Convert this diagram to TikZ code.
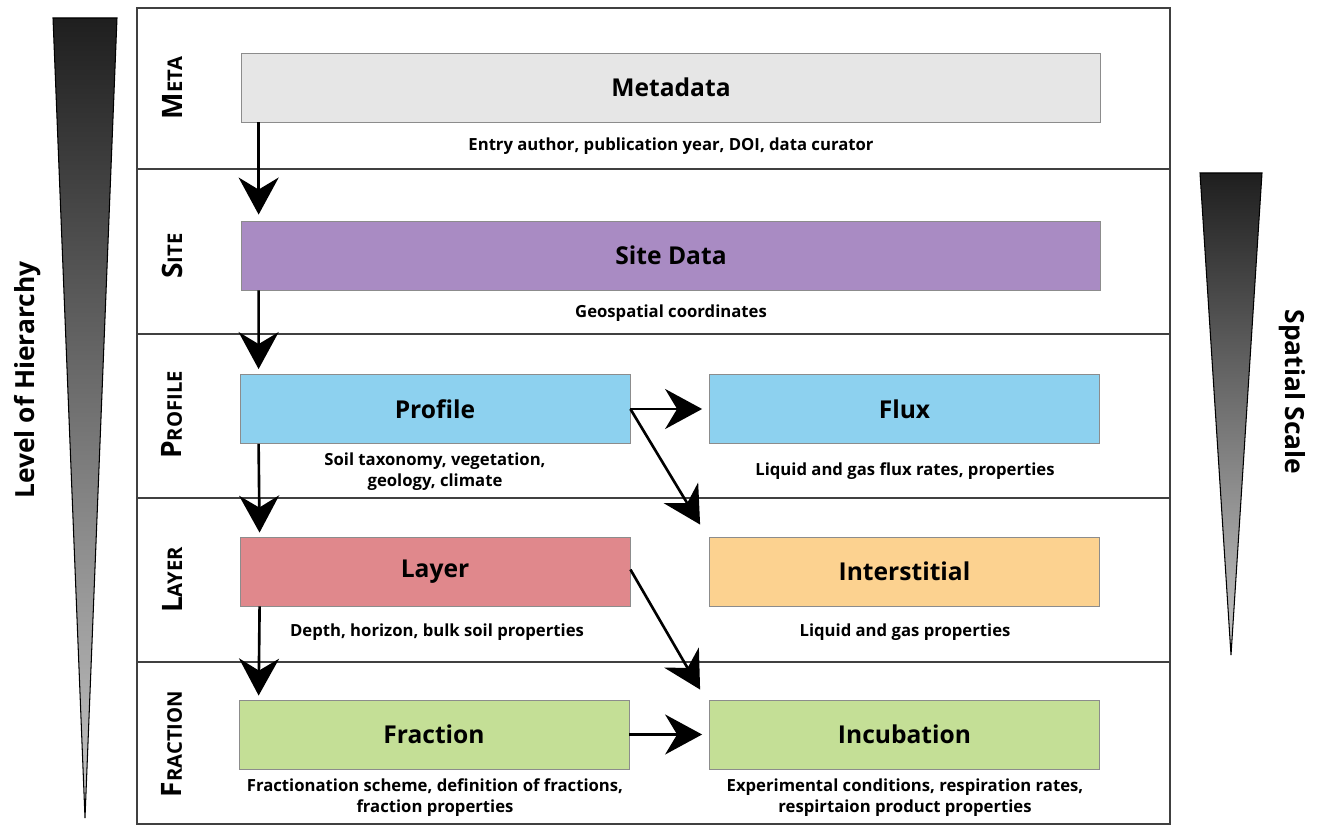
\documentclass[tikz,border=0pt]{standalone}
\usepackage{fontspec}
\setmainfont{Open Sans}
\usetikzlibrary{arrows.meta,positioning}

\definecolor{metagray}{HTML}{E6E6E6}
\definecolor{sitepurple}{HTML}{A98BC3}
\definecolor{profileblue}{HTML}{8DD1EF}
\definecolor{layerred}{HTML}{E0888C}
\definecolor{interorange}{HTML}{FCD290}
\definecolor{fracgreen}{HTML}{C4DF96}

% fake small caps for the row names
\newcommand{\levelname}[2]{{\fontsize{16}{16}\selectfont #1}{\fontsize{11.5}{12}\selectfont #2}}

\tikzset{
  datbox/.style={draw=black!45, line width=0.5pt, minimum height=1.38cm,
    inner sep=0pt, font=\bfseries\fontsize{14}{16}\selectfont},
  widebox/.style={datbox, minimum width=17.2cm},
  halfbox/.style={datbox, minimum width=7.8cm},
  note/.style={font=\bfseries\fontsize{9.5}{12}\selectfont, align=center},
  link/.style={line width=1.5pt, -{Stealth[length=0.74cm,width=0.8cm,inset=0.24cm]}},
  level/.style={rotate=90, font=\bfseries},
  sidetitle/.style={font=\bfseries\fontsize{15}{17}\selectfont},
  wedge/.style={top color=black!88, bottom color=black!22, draw=black, line width=0.6pt}
}

\begin{document}
\begin{tikzpicture}[x=0.02cm,y=-0.02cm]
  \useasboundingbox (0,0) rectangle (1322,827);

  % the two wedges
  \shade[wedge] (53,18) -- (117,18) -- (85,818) -- cycle;
  \shade[wedge] (1200,173) -- (1262,173) -- (1231,655) -- cycle;
  \node[sidetitle, rotate=90] (hier) at (28,380) {Level of Hierarchy};
  \node[sidetitle, rotate=-90] (scale) at (1292,392) {Spatial Scale};

  % frame and rows
  \draw[line width=1.2pt, black!75] (137,8) rectangle (1170,824);
  \foreach \y in {169,334,498,662}
    \draw[line width=0.9pt, black!75] (137,\y) -- (1170,\y);

  \node[level] (lmeta) at (172,88) {\levelname{M}{ETA}};
  \node[level] (lsite) at (172,256) {\levelname{S}{ITE}};
  \node[level] (lprofile) at (172,415) {\levelname{P}{ROFILE}};
  \node[level] (llayer) at (172,580) {\levelname{L}{AYER}};
  \node[level] (lfraction) at (172,744) {\levelname{F}{RACTION}};

  % boxes
  \node[widebox, fill=metagray] (meta) at (671,87.5) {Metadata};
  \node[widebox, fill=sitepurple] (site) at (671,255.5) {Site Data};
  \node[halfbox, fill=profileblue] (profile) at (435,409) {Profile};
  \node[halfbox, fill=profileblue] (flux) at (904.5,409) {Flux};
  \node[halfbox, fill=layerred] (layer) at (435,571.5) {Layer};
  \node[halfbox, fill=interorange] (inter) at (904.5,571.5) {Interstitial};
  \node[halfbox, fill=fracgreen] (fraction) at (434,734.5) {Fraction};
  \node[halfbox, fill=fracgreen] (incub) at (904.5,734.5) {Incubation};

  % notes
  \node[note] (metanote) at (671,146) {Entry author, publication year, DOI, data curator};
  \node[note] (sitenote) at (671,313) {Geospatial coordinates};
  \node[note] (profilenote) at (435,472) {Soil taxonomy, vegetation,\\geology, climate};
  \node[note] (fluxnote) at (905,471) {Liquid and gas flux rates, properties};
  \node[note] (layernote) at (437,632) {Depth, horizon, bulk soil properties};
  \node[note] (internote) at (905,632) {Liquid and gas properties};
  \node[note] (fractionnote) at (435,798) {Fractionation scheme, definition of fractions,\\fraction properties};
  \node[note] (incubnote) at (905,798) {Experimental conditions, respiration rates,\\respirtaion product properties};

  % links
  \draw[link, shorten >=0.12cm] ([xshift=0.36cm]meta.south west) -- ([xshift=0.36cm]site.north west);
  \draw[link, shorten >=0.1cm] ([xshift=0.36cm]site.south west) -- ([xshift=0.38cm]profile.north west);
  \draw[link, shorten >=0.08cm] ([xshift=0.38cm]profile.south west) -- ([xshift=0.4cm]layer.north west);
  \draw[link, shorten >=0.08cm] ([xshift=0.4cm]layer.south west) -- ([xshift=0.4cm]fraction.north west);
  \draw[link, shorten >=0.14cm] (profile.east) -- (flux.west);
  \draw[link] (profile.east) -- ([xshift=-0.18cm,yshift=0.24cm]inter.north west);
  \draw[link] ([yshift=0.04cm]layer.east) -- ([xshift=-0.18cm,yshift=0.2cm]incub.north west);
  \draw[link, shorten >=0.14cm] (fraction.east) -- (incub.west);
\end{tikzpicture}
\end{document}
